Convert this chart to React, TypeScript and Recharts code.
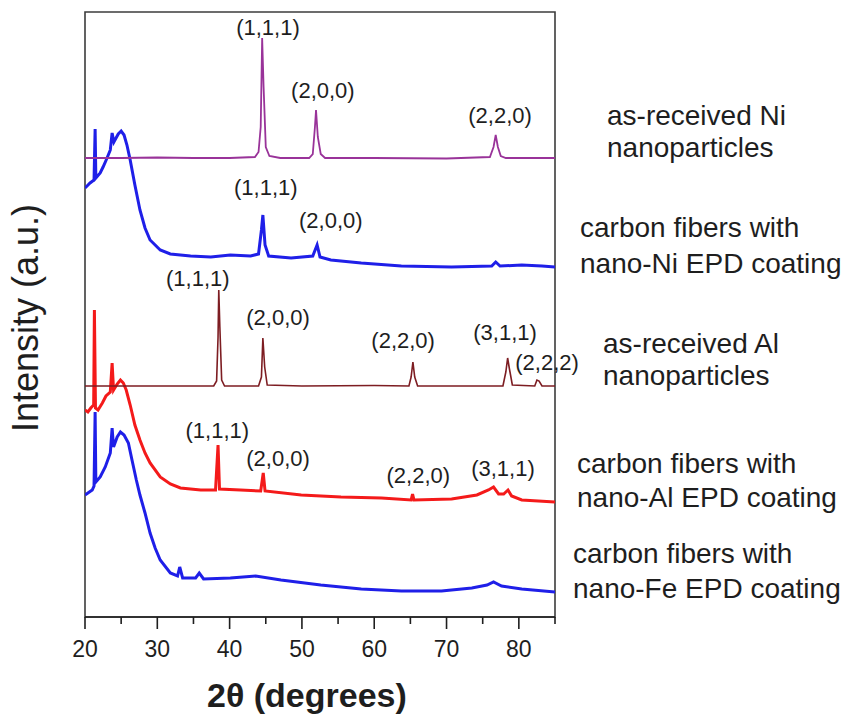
import React from "react";
import {
  LineChart,
  Line,
  XAxis,
  YAxis,
  ReferenceArea,
  ReferenceDot,
} from "recharts";

// ---- diffraction patterns, 2θ (deg) vs stacked intensity (a.u.) ----

// as-received Ni nanoparticles
const niNpTheta = [20, 25, 30, 35, 40, 43.5, 44.0, 44.3, 44.5, 44.7, 45.0, 45.5, 47, 51, 51.5, 51.8, 51.95, 52.2, 52.6, 53.2, 60, 70, 76, 76.5, 76.8, 77.1, 77.5, 78.2, 85];
const niNpInt = [459, 459, 459.5, 459, 459, 460, 465, 490, 579, 530, 470, 461, 459, 459, 463, 490, 507, 480, 463, 459, 459, 458.5, 460, 470, 482, 470, 461, 459, 459];

// carbon fibers with nano-Ni EPD coating
const cfNiTheta = [20, 20.7, 21.25, 21.4, 21.5, 22.1, 22.5, 23.05, 23.5, 23.75, 24.0, 24.6, 25.0, 25.4, 25.8, 26.25, 26.9, 27.6, 28.3, 29.0, 30.4, 31.8, 34.6, 37.4, 40.1, 42.9, 44.0, 44.4, 44.6, 44.9, 45.4, 48.5, 51.5, 52.1, 52.5, 54.0, 58.2, 63.75, 70.7, 76.25, 76.8, 77.4, 80.4, 83.2, 85];
const cfNiInt = [429, 434, 437, 488, 439, 444, 450, 459, 467, 484, 475, 483, 486, 482, 472, 457, 432, 407, 389, 377, 367, 363, 361, 360, 362, 361, 363, 387, 402, 372, 361, 359, 361, 372, 360, 357, 354, 351, 350, 351, 355, 351, 352, 351, 350];

// as-received Al nanoparticles
const alNpTheta = [20, 30, 37.8, 38.2, 38.4, 38.5, 38.65, 38.9, 39.3, 44.0, 44.4, 44.6, 44.85, 45.2, 50, 60, 64.8, 65.1, 65.35, 65.6, 66, 77.8, 78.2, 78.45, 78.7, 79.1, 82.2, 82.5, 82.8, 83.2, 85];
const alNpInt = [231, 231, 231, 236, 280, 327, 290, 237, 231, 231, 240, 279, 250, 232, 231, 231.5, 231, 240, 255, 240, 231, 231, 245, 259, 248, 232, 231, 237, 236, 231, 231];

// carbon fibers with nano-Al EPD coating
const cfAlTheta = [20, 20.4, 20.8, 21.2, 21.3, 21.45, 21.8, 22.4, 22.9, 23.5, 23.75, 23.95, 24.45, 24.9, 25.3, 25.7, 26.25, 26.9, 27.6, 28.3, 29.0, 30.4, 31.8, 33.2, 36.0, 38.05, 38.4, 38.6, 41.5, 44.3, 44.65, 44.9, 49.9, 55.4, 61.0, 65.1, 65.3, 65.5, 70.7, 74.2, 75.8, 76.5, 77.2, 77.9, 78.5, 79.0, 80.4, 85];
const cfAlInt = [207, 205, 209, 212, 307, 209, 207, 214, 221, 225, 254, 227, 233, 237, 234, 227, 212, 192, 177, 164, 154, 140, 133, 129, 127, 127, 172, 128, 127, 126, 144, 126, 122, 120, 119, 117, 123, 117, 118, 122, 127, 130, 123, 123, 127, 121, 117, 115];

// carbon fibers with nano-Fe EPD coating
const cfFeTheta = [20, 20.4, 21.0, 21.25, 21.4, 21.5, 22.1, 22.8, 23.5, 23.75, 23.95, 24.45, 24.9, 25.4, 26.0, 26.5, 27.1, 27.6, 28.3, 29.0, 29.7, 30.4, 31.8, 32.8, 33.1, 33.5, 35.3, 35.8, 36.4, 40.1, 43.6, 47.1, 52.6, 58.2, 63.75, 69.3, 73.5, 75.6, 76.5, 77.6, 80.4, 85];
const cfFeInt = [122, 124, 127, 131, 205, 135, 140, 150, 164, 189, 170, 180, 185, 182, 174, 157, 137, 122, 104, 84, 69, 57, 44, 41, 50, 39, 39, 44, 38, 39, 41, 37, 32, 28, 26, 26, 29, 32, 35, 31, 28, 25];

// x axis ticks (minor ticks unlabeled)
const xTicks = [20, 25, 30, 35, 40, 45, 50, 55, 60, 65, 70, 75, 80, 85];
const xTickLabels = ["20", "", "30", "", "40", "", "50", "", "60", "", "70", "", "80", ""];

// peak (hkl) annotations
const peakText = [
  "(1,1,1)", "(2,0,0)", "(2,2,0)",
  "(1,1,1)", "(2,0,0)",
  "(1,1,1)", "(2,0,0)", "(2,2,0)", "(3,1,1)", "(2,2,2)",
  "(1,1,1)", "(2,0,0)", "(2,2,0)", "(3,1,1)",
];
const peakTheta = [45.3, 52.9, 77.4, 45.0, 54.0, 35.6, 46.7, 64.0, 78.1, 83.9, 38.3, 46.7, 66.1, 77.8];
const peakInt = [590, 527, 502, 430, 397, 339, 300, 277, 285, 255, 187, 159, 142, 149];

// sample names shown on the right
const sampleLines = [
  ["as-received Ni", "nanoparticles"],
  ["carbon fibers with", "nano-Ni EPD coating"],
  ["as-received Al", "nanoparticles"],
  ["carbon fibers with", "nano-Al EPD coating"],
  ["carbon fibers with", "nano-Fe EPD coating"],
];

const toRows = (theta: number[], v: number[]) =>
  theta.map((t, i) => ({ t, v: v[i] }));

const FONT = "'Liberation Sans', Arial, Helvetica, sans-serif";
const INK = "#1e1e1e";

// eslint-disable-next-line @typescript-eslint/no-explicit-any
const XTick = (props: any) => {
  const { x, y, payload } = props;
  const idx = xTicks.indexOf(payload.value);
  const label = xTickLabels[idx] ?? "";
  const major = label !== "";
  return (
    <g>
      <line x1={x} y1={y} x2={x} y2={y + (major ? 12 : 7)} stroke={INK} strokeWidth={1.6} />
      {major && (
        <text
          x={x}
          y={y + 40}
          textAnchor="middle"
          fill={INK}
          style={{ fontSize: 23, fontFamily: FONT }}
        >
          {label}
        </text>
      )}
    </g>
  );
};

export default function App() {
  const W = 846;
  const H = 715;

  // left edge of each name block and the x-height centre of its lines
  const nameX = [607, 580, 603, 577, 573];
  const nameY = [
    [118, 150],
    [230, 266],
    [346, 378],
    [466, 500],
    [556, 591],
  ];

  return (
    <div style={{ position: "absolute", left: 0, top: 0, width: W, height: H, background: "#fff" }}>
      <LineChart
        width={W}
        height={H}
        margin={{ top: 12, right: 291, left: 85, bottom: 58 }}
      >
        <XAxis
          dataKey="t"
          type="number"
          domain={[20, 85]}
          ticks={xTicks}
          interval={0}
          height={40}
          tickSize={0}
          tickMargin={0}
          tickLine={false}
          axisLine={{ stroke: INK, strokeWidth: 1.6 }}
          tick={<XTick />}
          allowDataOverflow
        />
        <YAxis hide width={0} type="number" domain={[0, 605]} allowDataOverflow />

        <ReferenceArea
          x1={20}
          x2={85}
          y1={0}
          y2={605}
          fill="none"
          stroke="#3c3c3c"
          strokeWidth={1.6}
        />

        <Line data={toRows(cfFeTheta, cfFeInt)} dataKey="v" stroke="#1f1fe8" strokeWidth={3} dot={false} isAnimationActive={false} />
        <Line data={toRows(cfAlTheta, cfAlInt)} dataKey="v" stroke="#f41a1a" strokeWidth={3} dot={false} isAnimationActive={false} />
        <Line data={toRows(alNpTheta, alNpInt)} dataKey="v" stroke="#7d1d22" strokeWidth={1.6} dot={false} isAnimationActive={false} />
        <Line data={toRows(cfNiTheta, cfNiInt)} dataKey="v" stroke="#1f1fe8" strokeWidth={3} dot={false} isAnimationActive={false} />
        <Line data={toRows(niNpTheta, niNpInt)} dataKey="v" stroke="#993399" strokeWidth={1.8} dot={false} isAnimationActive={false} />

        {peakText.map((txt, i) => (
          <ReferenceDot
            key={i}
            x={peakTheta[i]}
            y={peakInt[i]}
            r={0}
            fill="none"
            stroke="none"
            label={{
              value: txt,
              position: "center",
              fontSize: 22,
              fontFamily: FONT,
              fill: INK,
            }}
          />
        ))}
      </LineChart>

      <svg
        width={W}
        height={H}
        style={{ position: "absolute", left: 0, top: 0, pointerEvents: "none" }}
      >
        <text
          x={38}
          y={318}
          textAnchor="middle"
          fontSize={36}
          fontFamily={FONT}
          fill={INK}
          transform="rotate(-90 38 318)"
        >
          Intensity (a.u.)
        </text>
        <text x={207} y={707} fontSize={34} fontWeight="bold" fontFamily={FONT} fill={INK}>
          2θ (degrees)
        </text>
        {sampleLines.map((lines, b) =>
          lines.map((ln, j) => (
            <text
              key={`${b}-${j}`}
              x={nameX[b]}
              y={nameY[b][j] + 7}
              fontSize={28}
              fontFamily={FONT}
              fill={INK}
            >
              {ln}
            </text>
          ))
        )}
      </svg>
    </div>
  );
}
